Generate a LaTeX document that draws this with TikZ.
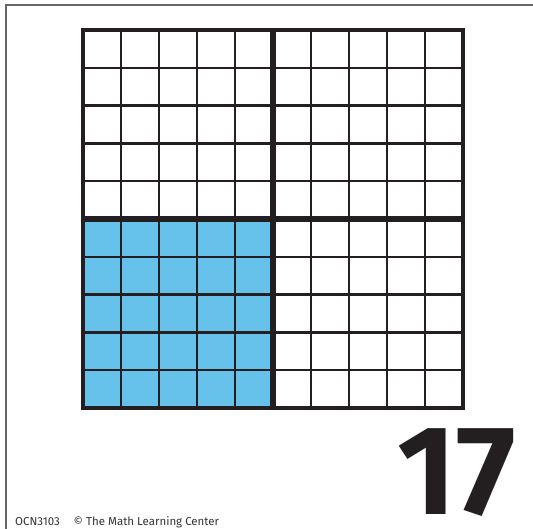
\documentclass[tikz,border=0pt]{standalone}
\usepackage{fontspec}
\setmainfont{Fira Sans}
\usepackage{xcolor}
\usepackage{tikz}
\definecolor{cellblue}{RGB}{102,194,234}
\definecolor{inkblack}{RGB}{35,31,32}

\begin{document}
\begin{tikzpicture}[
			x=1pt, y=-1pt,
			frame/.style={draw=black!60, line width=1.4pt},
			thin/.style={draw=inkblack, line width=2.3pt},
			half/.style={draw=inkblack, line width=5.5pt},
			rim/.style={draw=inkblack, line width=4pt}
			]
			\useasboundingbox (0,0) rectangle (533,529);
			\draw[frame] (540,5) -- (6,5) -- (6,540);
			
			% shaded quarter
			\fill[cellblue] (83,219) rectangle (273,408);
			
			\foreach \i in {1,2,3,4,6,7,8,9} {
				\draw[thin] (83+38*\i,30) -- (83+38*\i,408);
				\draw[thin] (83,30+37.8*\i) -- (463,30+37.8*\i);
			}
			\draw[half] (273,30) -- (273,408);
			\draw[half] (83,219) -- (463,219);
			\draw[rim] (83,30) rectangle (463,408);
			
			\node[anchor=base east, inner sep=0, text=inkblack, font=\fontsize{127}{127}\selectfont\bfseries] (cardnum) at (516,514) {17};
			\node[anchor=base west, inner sep=0, text=black!80, font=\fontsize{11.5}{11.5}\selectfont] (credit) at (15,525.5) {OCN3103\hspace{1.2em}© The Math Learning Center};
		\end{tikzpicture}
\end{document}
